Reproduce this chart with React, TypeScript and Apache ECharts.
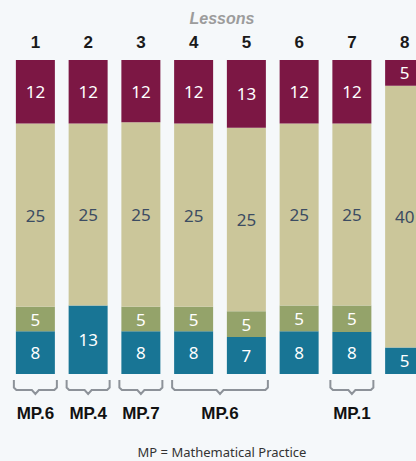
import React, { useEffect, useRef } from "react";
import * as echarts from "echarts";

// Lessons (categories)
const lessons = ["1", "2", "3", "4", "5", "6", "7", "8"];

// Minutes printed in each segment (labels)
const maroonMinutes = [12, 12, 12, 12, 13, 12, 12, 5];
const beigeMinutes = [25, 25, 25, 25, 25, 25, 25, 40];
const greenMinutes: (number | null)[] = [5, null, 5, 5, 5, 5, 5, null];
const tealMinutes = [8, 13, 8, 8, 7, 8, 8, 5];

// Drawn segment heights (each bar totals 50)
const tealHeight = [6.8, 10.9, 6.8, 6.8, 5.9, 6.8, 6.7, 4.2];
const greenHeight = [3.9, 0, 3.9, 3.9, 4.1, 4.1, 4.2, 0];
const beigeHeight = [29.2, 29.0, 29.4, 29.2, 29.2, 29.0, 29.0, 41.7];
const maroonHeight = [10.1, 10.1, 9.9, 10.1, 10.8, 10.1, 10.1, 4.1];

// Mathematical Practice brackets: [first lesson index, last lesson index]
const bracketRanges = [
  [0, 0],
  [1, 1],
  [2, 2],
  [3, 4],
  [6, 6],
];
const bracketLabels = ["MP.6", "MP.4", "MP.7", "MP.6", "MP.1"];

const FONT = '"Noto Sans", "Open Sans", sans-serif';

function segLabel(labels: (number | null)[], color: string) {
  return {
    show: true,
    position: "inside",
    color,
    fontFamily: FONT,
    fontSize: 17,
    formatter: (p: any) => {
      const v = labels[p.dataIndex];
      return v == null ? "" : String(v);
    },
  };
}

export default function App() {
  const ref = useRef<HTMLDivElement>(null);

  useEffect(() => {
    if (!ref.current) return;
    const chart = echarts.init(ref.current, undefined, { renderer: "svg" });
    const barW = 39;
    chart.setOption({
      animation: false,
      backgroundColor: "#f5f8fa",
      grid: {
        left: 9,
        width: 422,
        top: 60,
        height: 314,
        containLabel: false,
        outerBoundsMode: "none",
      },
      xAxis: {
        type: "category",
        position: "top",
        data: lessons,
        axisLine: { show: false },
        axisTick: { show: false },
        axisLabel: {
          color: "#1a1a1a",
          fontFamily: '"Liberation Sans", Arial, sans-serif',
          fontWeight: "bold",
          fontSize: 17,
          margin: 9,
        },
      },
      yAxis: { type: "value", min: 0, max: 50, show: false },
      graphic: [
        {
          type: "text",
          x: 222,
          y: 18,
          style: {
            text: "Lessons",
            align: "center",
            verticalAlign: "middle",
            font: 'italic bold 16px "Liberation Sans", Arial, sans-serif',
            fill: "#9c9c9c",
          },
        },
        {
          type: "text",
          x: 222,
          y: 452,
          style: {
            text: "MP = Mathematical Practice",
            align: "center",
            verticalAlign: "middle",
            font: '13px "Noto Sans", sans-serif',
            fill: "#333333",
          },
        },
      ],
      series: [
        {
          type: "bar",
          stack: "l",
          barWidth: barW,
          data: tealHeight,
          itemStyle: { color: "#187595" },
          label: segLabel(tealMinutes, "#ffffff"),
        },
        {
          type: "bar",
          stack: "l",
          barWidth: barW,
          data: greenHeight,
          itemStyle: { color: "#94a36a" },
          label: segLabel(greenMinutes, "#ffffff"),
        },
        {
          type: "bar",
          stack: "l",
          barWidth: barW,
          data: beigeHeight,
          itemStyle: { color: "#cbc69a" },
          label: segLabel(beigeMinutes, "#3c4c62"),
        },
        {
          type: "bar",
          stack: "l",
          barWidth: barW,
          data: maroonHeight,
          itemStyle: { color: "#7c1744" },
          label: segLabel(maroonMinutes, "#ffffff"),
        },
        {
          type: "custom",
          clip: false,
          silent: true,
          data: bracketRanges,
          encode: { x: [0, 1] },
          renderItem: (params: any, api: any) => {
            const from = api.value(0);
            const to = api.value(1);
            const p0 = api.coord([from, 0]);
            const p1 = api.coord([to, 0]);
            const half = barW / 2 + 2;
            const x0 = p0[0] - half;
            const x1 = p1[0] + half;
            const xm = (x0 + x1) / 2;
            const y0 = p0[1];
            const yt = y0 + 6;
            const yh = y0 + 16;
            const yp = y0 + 20;
            return {
              type: "group",
              children: [
                {
                  type: "polyline",
                  shape: {
                    points: [
                      [x0, yt],
                      [x0, yh - 2.5],
                      [x0 + 2.5, yh],
                      [xm - 3.5, yh],
                      [xm, yp],
                      [xm + 3.5, yh],
                      [x1 - 2.5, yh],
                      [x1, yh - 2.5],
                      [x1, yt],
                    ],
                  },
                  style: { stroke: "#8d9299", lineWidth: 2, fill: null },
                },
                {
                  type: "text",
                  style: {
                    x: xm,
                    y: y0 + 39,
                    text: bracketLabels[params.dataIndex],
                    align: "center",
                    verticalAlign: "middle",
                    font: 'bold 17px "Liberation Sans", Arial, sans-serif',
                    fill: "#111111",
                  },
                },
              ],
            };
          },
        },
      ],
    });
    return () => chart.dispose();
  }, []);

  return (
    <div
      ref={ref}
      style={{ position: "absolute", left: 0, top: 0, width: 416, height: 461 }}
    />
  );
}
